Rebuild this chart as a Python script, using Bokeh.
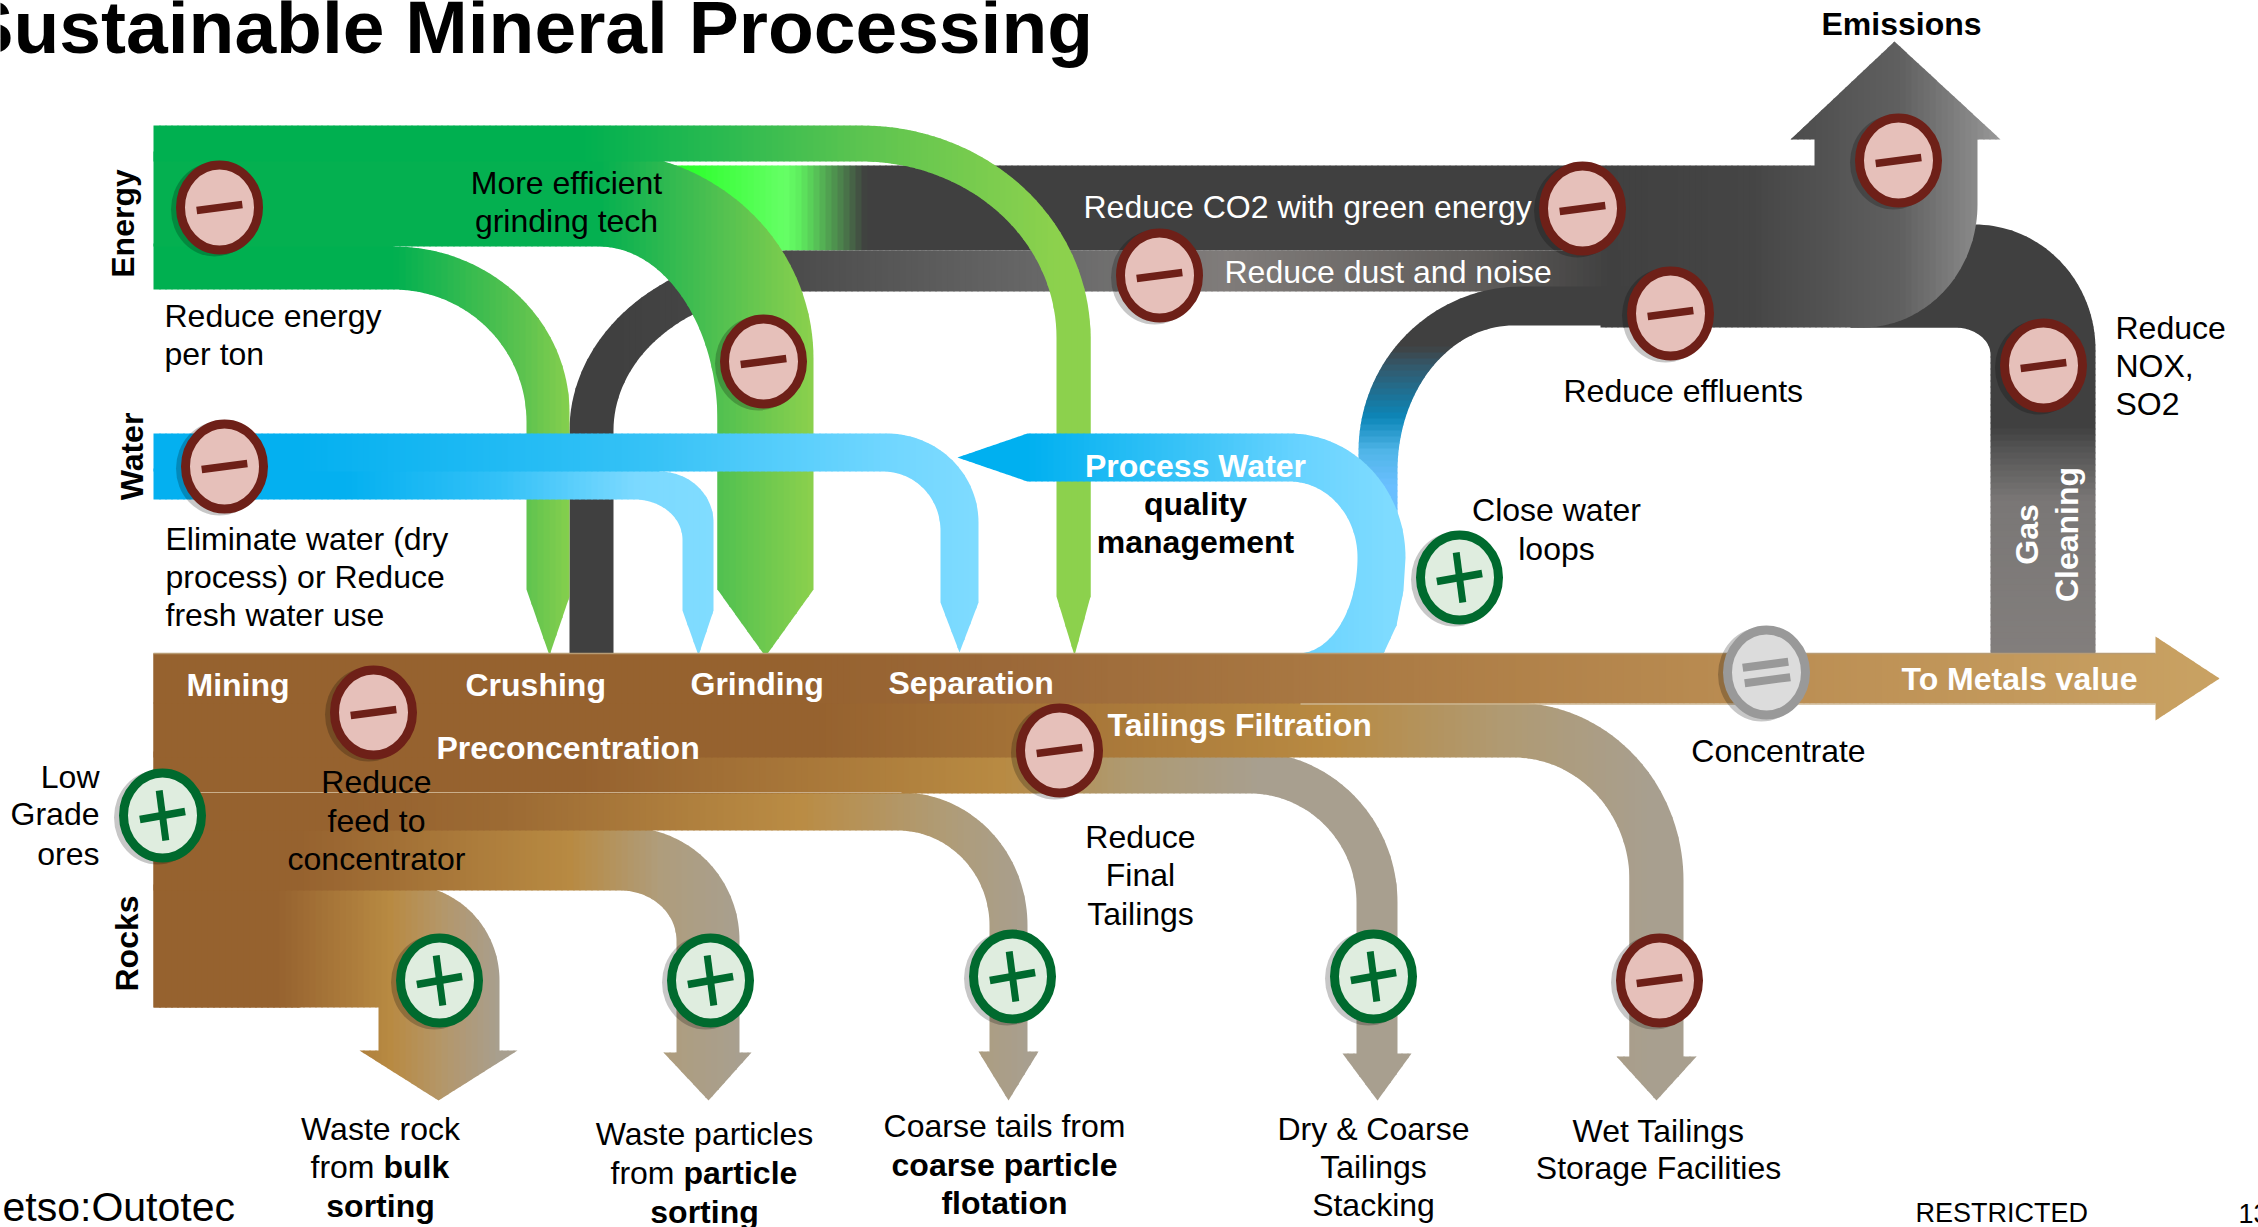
import math
from bokeh.plotting import figure
from bokeh.embed import file_html
from bokeh.resources import INLINE
from bokeh.models import Range1d
from bokeh.core.properties import value

FONT = "Liberation Sans"
# --- flow outlines: (x, y) straight, (x, y, "h"/"v") quarter-ellipse arriving there, starting horizontal / vertical
GAS = [(1850,224),(1974,224),(2095,349,"h"),(2095,653),(1990,653),(1990,354),(1954,327,"v"),(1850,327)]
GAS_STOPS = [(300,"#404040"),(427,"#404040"),(450,"#555555"),(500,"#7A7776"),(653,"#827E7C")]
MAIN_DARK = [(663,165),(1814,165),(1814,139),(1790,139),(1894,41),(2000,139),(1977,139),(1977,204),(1862,327,"v"),(1600,327),(1600,250),(663,250)]
MAIN_DARK_STOPS = [(663,"#1EFF1E"),(785,"#66FF66"),(800,"#5EEB5E"),(865,"#404040"),(1600,"#404040"),(1750,"#454545"),(1900,"#606060"),(1977,"#8A8A8A"),(2000,"#999999")]
DUST = [(569,655),(569,430),(790,250,"v"),(1620,250),(1620,291),(790,291),(613,430,"h"),(613,655)]
DUST_STOPS = [(613,"#404040"),(760,"#484848"),(1081,"#6C6C6C"),(1225,"#807C7A"),(1481,"#5F5C5A"),(1610,"#404040")]
EFFLUENT = [(1358,520),(1358,451),(1521,286,"v"),(1700,286),(1700,325),(1513,325),(1397,470,"h"),(1397,520)]
EFFLUENT_STOPS = [(345,"#404040"),(365,"#34586A"),(417,"#0C86B8"),(451,"#50B5E8"),(485,"#6ABFFF")]
G_LEFT = [(153,243),(393,243),(393,246),(569,412,"h"),(569,596),(549,655),(526,589),(526,421),(393,289,"v"),(153,289)]
G_LEFT_STOPS = [(393,"#00B050"),(526,"#5FC34F"),(569,"#86CF4D")]
G_MID = [(153,151),(598,151),(813,358,"h"),(813,589),(765,656),(717,589),(717,421),(598,246,"v"),(153,246)]
G_MID_STOPS = [(600,"#04B050"),(717,"#50C050"),(813,"#8CD14D")]
G_TOP = [(153,125),(861,125),(1090,337,"h"),(1090,596),(1074,655),(1056,596),(1056,337),(861,161,"v"),(153,161)]
G_TOP_STOPS = [(580,"#00B050"),(720,"#2ABA50"),(861,"#5CC450"),(1056,"#8CD14D")]
W_LOW = [(153,468),(659,468),(659,471),(713,522,"h"),(713,610),(698,655),(682,610),(682,539),(634,499,"v"),(153,499)]
W_LOW_STOPS = [(346,"#04B0F0"),(500,"#33C1F7"),(634,"#7BD9FF"),(713,"#80DCFF")]
W_MAIN = [(153,433),(886,433),(978,522,"h"),(978,602),(959,652),(940,602),(940,530),(883,471,"v"),(153,471)]
W_MAIN_STOPS = [(300,"#04B0F0"),(650,"#36C2F6"),(886,"#70D6FF"),(978,"#7FDBFF")]
PROCESS = [(957,457),(1027,433),(1289,433),(1405,557,"h"),(1403,590),(1396,625),(1383,653),(1297,653),(1357,557,"h"),(1289,481,"v"),(1027,481)]
PROCESS_STOPS = [(1027,"#00B0F0"),(1200,"#3FC5F8"),(1300,"#68D3FF"),(1390,"#7FDBFF")]
ROCK = [(153,884),(404,884),(499,980,"h"),(499,1050),(517,1050),(438,1100),(359,1050),(378,1050),(378,1007),(153,1007)]
ROCK_STOPS = [(277,"#96622F"),(390,"#B88A42"),(440,"#B49668"),(499,"#A89F8F")]
PARTICLE = [(153,827),(627,827),(739,940,"h"),(739,1052),(751,1052),(708,1100),(663,1052),(676,1052),(676,940),(620,890,"v"),(153,890)]
PARTICLE_STOPS = [(300,"#96622F"),(570,"#B88A42"),(660,"#AF9D7C"),(739,"#A89F8F")]
COARSE = [(153,792),(901,792),(1027,925,"h"),(1027,1051),(1038,1051),(1008,1100),(978,1051),(989,1051),(989,925),(897,830,"v"),(153,830)]
COARSE_STOPS = [(350,"#96622F"),(500,"#9C6A33"),(800,"#BA8C44"),(950,"#AF9C78"),(1027,"#A89F8F")]
DRY = [(153,751),(1249,751),(1397,902,"h"),(1397,1053),(1411,1053),(1377,1100),(1342,1053),(1356,1053),(1356,902),(1249,793,"v"),(153,793)]
DRY_STOPS = [(580,"#96622F"),(1000,"#B88A42"),(1130,"#AE9A72"),(1260,"#A89F8F")]
WET = [(153,702),(1513,702),(1683,880,"h"),(1683,1056),(1696,1056),(1656,1100),(1616,1056),(1629,1056),(1629,880),(1513,757,"v"),(153,757)]
WET_STOPS = [(820,"#96622F"),(1330,"#B88A42"),(1500,"#B09A72"),(1650,"#A89F8F")]
ORE = [(153,653),(2155,653),(2155,636),(2219,678),(2155,720),(2155,703),(153,703)]
ORE_STOPS = [(800,"#96622F"),(1000,"#9B6838"),(1400,"#AC7C45"),(1802,"#BC8F54"),(2219,"#C9A263")]
BLOCK = [(153,653),(300,653),(300,1007),(153,1007)]
BLOCK_STOPS = [(153,"#96622F"),(300,"#96622F")]

FLOWS = [
    (GAS, GAS_STOPS, "y"), (MAIN_DARK, MAIN_DARK_STOPS, "x"), (DUST, DUST_STOPS, "x"), (EFFLUENT, EFFLUENT_STOPS, "y"),
    (G_LEFT, G_LEFT_STOPS, "x"), (G_MID, G_MID_STOPS, "x"), (G_TOP, G_TOP_STOPS, "x"),
    (W_LOW, W_LOW_STOPS, "x"), (W_MAIN, W_MAIN_STOPS, "x"), (PROCESS, PROCESS_STOPS, "x"),
    (BLOCK, BLOCK_STOPS, "x"), (ROCK, ROCK_STOPS, "x"), (PARTICLE, PARTICLE_STOPS, "x"), (COARSE, COARSE_STOPS, "x"),
    (DRY, DRY_STOPS, "x"), (WET, WET_STOPS, "x"), (ORE, ORE_STOPS, "x"),
]

# --- badges: centre x, centre y
MINUS_X = [219,763,224,1159,1582,1670,1898,2043,373,1059,1659]
MINUS_Y = [207,361,466,275,208,313,160,365,712,750,980]
PLUS_X = [1459,162,439,710,1012,1373]
PLUS_Y = [577,815,980,980,976,976]
EQUAL_X = [1766]
EQUAL_Y = [672]

# --- texts: text, x, baseline y, align, style, colour
BLACK, WHITE = "#000000", "#FFFFFF"
TEXTS = [
    ("More efficient",566,193,"center","normal",BLACK),("grinding tech",566,231,"center","normal",BLACK),
    ("Reduce energy",164,326,"left","normal",BLACK),("per ton",164,364,"left","normal",BLACK),
    ("Eliminate water (dry",165,549,"left","normal",BLACK),("process) or Reduce",165,587,"left","normal",BLACK),("fresh water use",165,625,"left","normal",BLACK),
    ("Process Water",1195,476,"center","bold",WHITE),("quality",1195,514,"center","bold",BLACK),("management",1195,552,"center","bold",BLACK),
    ("Reduce CO2 with green energy",1083,217,"left","normal",WHITE),("Reduce dust and noise",1224,282,"left","normal",WHITE),
    ("Reduce effluents",1563,401,"left","normal",BLACK),
    ("Reduce",2115,338,"left","normal",BLACK),("NOX,",2115,376,"left","normal",BLACK),("SO2",2115,414,"left","normal",BLACK),
    ("Emissions",1901,34,"center","bold",BLACK),
    ("Close water",1556,520,"center","normal",BLACK),("loops",1556,559,"center","normal",BLACK),
    ("To Metals value",1901,689,"left","bold",WHITE),("Concentrate",1778,761,"center","normal",BLACK),
    ("Mining",186,695,"left","bold",WHITE),("Crushing",465,695,"left","bold",WHITE),("Grinding",690,694,"left","bold",WHITE),("Separation",888,693,"left","bold",WHITE),
    ("Preconcentration",436,758,"left","bold",WHITE),("Tailings Filtration",1107,735,"left","bold",WHITE),
    ("Reduce",376,792,"center","normal",BLACK),("feed to",376,831,"center","normal",BLACK),("concentrator",376,869,"center","normal",BLACK),
    ("Low",99,787,"right","normal",BLACK),("Grade",99,824,"right","normal",BLACK),("ores",99,864,"right","normal",BLACK),
    ("Waste rock",380,1139,"center","normal",BLACK),("from ",310,1177,"left","normal",BLACK),("bulk",383,1177,"left","bold",BLACK),("sorting",380,1216,"center","bold",BLACK),
    ("Waste particles",704,1144,"center","normal",BLACK),("from ",610,1183,"left","normal",BLACK),("particle",683,1183,"left","bold",BLACK),("sorting",704,1222,"center","bold",BLACK),
    ("Coarse tails from",1004,1136,"center","normal",BLACK),("coarse particle",1004,1175,"center","bold",BLACK),("flotation",1004,1213,"center","bold",BLACK),
    ("Dry & Coarse",1373,1139,"center","normal",BLACK),("Tailings",1373,1177,"center","normal",BLACK),("Stacking",1373,1215,"center","normal",BLACK),
    ("Wet Tailings",1658,1141,"center","normal",BLACK),("Storage Facilities",1658,1178,"center","normal",BLACK),
    ("Reduce",1140,847,"center","normal",BLACK),("Final",1140,885,"center","normal",BLACK),("Tailings",1140,924,"center","normal",BLACK),
]
VERTICAL_TEXTS = [("Energy",133,223,BLACK),("Water",142,456,BLACK),("Rocks",137,943,BLACK),("Gas",2037,534,WHITE),("Cleaning",2077,534,WHITE)]
TITLE = ("Sustainable Mineral Processing",-37,51)
LOGO = ("etso:Outotec",2,1220)
FOOTER = [("RESTRICTED",1915,1221),("13",2238,1222)]
BASE_K = 0.33


def expand(path, n=40):
    out = [path[0][:2]]
    for pt in path[1:]:
        if len(pt) == 2:
            out.append(pt)
            continue
        x0, y0 = out[-1]
        x1, y1, kind = pt
        for i in range(1, n + 1):
            t = i / n * math.pi / 2
            if kind == "h":
                out.append((x0 + (x1 - x0) * math.sin(t), y0 + (y1 - y0) * (1 - math.cos(t))))
            else:
                out.append((x0 + (x1 - x0) * (1 - math.cos(t)), y0 + (y1 - y0) * math.sin(t)))
    return out


def clip(poly, idx, lim, keep_below):
    res = []
    for i in range(len(poly)):
        a, b = poly[i], poly[(i + 1) % len(poly)]
        ina = a[idx] <= lim if keep_below else a[idx] >= lim
        inb = b[idx] <= lim if keep_below else b[idx] >= lim
        if ina:
            res.append(a)
        if ina != inb:
            s = (lim - a[idx]) / (b[idx] - a[idx])
            res.append((a[0] + s * (b[0] - a[0]), a[1] + s * (b[1] - a[1])))
    return res


def rgb(h):
    return tuple(int(h[i:i + 2], 16) for i in (1, 3, 5))


def ramp(stops, v):
    if v <= stops[0][0]:
        return stops[0][1]
    for (a, ca), (b, cb) in zip(stops, stops[1:]):
        if v <= b:
            s = (v - a) / (b - a)
            c0, c1 = rgb(ca), rgb(cb)
            return "#%02X%02X%02X" % tuple(round(p + s * (q - p)) for p, q in zip(c0, c1))
    return stops[-1][1]


p = figure(width=2258, height=1227, x_range=Range1d(0, 2258), y_range=Range1d(1227, 0),
           output_backend="svg", toolbar_location=None, min_border=0, outline_line_color=None,
           background_fill_color="white", border_fill_color="white")
p.axis.visible = False
p.grid.visible = False

STEP = 6
for path, stops, axis in FLOWS:
    poly = expand(path)
    idx = 0 if axis == "x" else 1
    lo, hi = min(q[idx] for q in poly), max(q[idx] for q in poly)
    xs, ys, cols = [], [], []
    v = lo
    while v < hi:
        part = clip(clip(poly, idx, v, False), idx, v + STEP + 1.0, True)
        if len(part) >= 3:
            xs.append([q[0] for q in part])
            ys.append([q[1] for q in part])
            cols.append(ramp(stops, v + STEP / 2))
        v += STEP
    p.patches(xs, ys, fill_color=cols, line_color=None)

# thin light edges on the ore stream
p.line([153, 2155], [653, 653], line_color="#B89C74", line_width=1.5)
p.line([1300, 2155], [703.5, 703.5], line_color="#CDB58F", line_width=1.5)
p.line([200, 901], [792, 792], line_color="#C9AE8A", line_width=1.2)


def bar(cx, cy, half, deg, color, width):
    dx, dy = half * math.cos(math.radians(deg)), half * math.sin(math.radians(deg))
    p.segment(cx - dx, cy + dy, cx + dx, cy - dy, line_color=color, line_width=width)


def badge(cx, cy, face, rim, mark, kind):
    W, H = 78, 85
    p.ellipse(cx - 5, cy + 2, width=W + 9, height=H + 9, fill_color="#000000", fill_alpha=0.22, line_color=None)
    p.ellipse(cx, cy, width=W, height=H, fill_color=face, line_color=rim, line_width=9)
    if kind == "minus":
        bar(cx, cy, 23, 7.5, mark, 7.5)
    elif kind == "plus":
        bar(cx, cy, 23, 10, mark, 7.5)
        p.segment(cx - 3.3, cy - 25, cx + 3.3, cy + 25, line_color=mark, line_width=7)
    else:
        bar(cx - 1, cy - 7.7, 23, 7.5, mark, 8)
        bar(cx + 1, cy + 7.7, 23, 7.5, mark, 8)


for cx, cy in zip(MINUS_X, MINUS_Y):
    badge(cx, cy, "#E6C0BA", "#6E2018", "#6E2018", "minus")
for cx, cy in zip(PLUS_X, PLUS_Y):
    badge(cx, cy, "#DFEDDF", "#006A2E", "#006A2E", "plus")
for cx, cy in zip(EQUAL_X, EQUAL_Y):
    badge(cx, cy, "#DCDCDC", "#999999", "#999999", "equal")


def txt(s, x, y, size=32, align="left", style="normal", color=BLACK, angle=0.0):
    if angle:
        x = x - BASE_K * size
    else:
        y = y - BASE_K * size
    p.text([x], [y], text=[s], text_font=value(FONT), text_font_size=value(f"{size}px"), text_align=align,
           text_baseline="alphabetic", text_font_style=style, text_color=color, angle=angle)


for s, x, y, a, st, c in TEXTS:
    txt(s, x, y, 32, a, st, c)
for s, x, y, c in VERTICAL_TEXTS:
    txt(s, x, y, 32, "center", "bold", c, angle=math.pi / 2)
txt(TITLE[0], TITLE[1], TITLE[2], 75, "left", "bold")
txt(LOGO[0], LOGO[1], LOGO[2], 41, "left", "normal")
txt(FOOTER[0][0], FOOTER[0][1], FOOTER[0][2], 27)
txt(FOOTER[1][0], FOOTER[1][1], FOOTER[1][2], 27)

open("out.html", "w").write(file_html(p, INLINE, title="Sustainable Mineral Processing"))
